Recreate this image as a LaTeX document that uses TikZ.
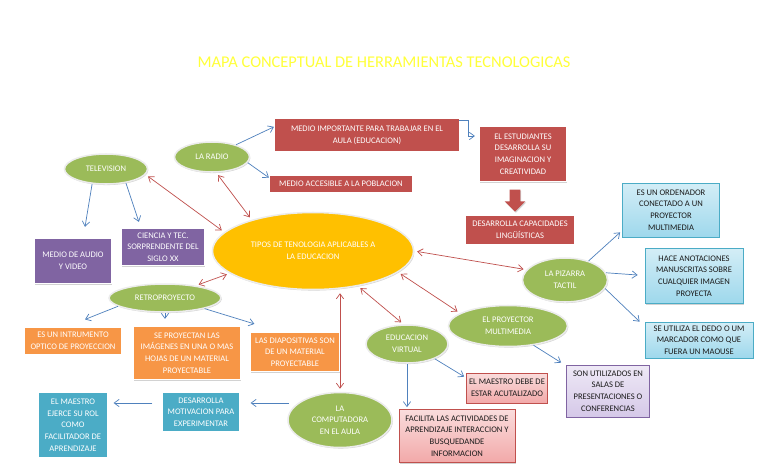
\documentclass[tikz,border=0pt]{standalone}
\usepackage{fontspec}
\setmainfont{Carlito}
\usetikzlibrary{arrows.meta,positioning,calc,shapes.geometric,shapes.arrows,shadows}
\definecolor{MapRed}{HTML}{C0504D}
\definecolor{MapPurple}{HTML}{8064A2}
\definecolor{MapOrange}{HTML}{F79646}
\definecolor{MapTeal}{HTML}{4BACC6}
\definecolor{MapGreen}{HTML}{9BBB59}
\definecolor{MapGold}{HTML}{FFC000}
\definecolor{MapBlue}{HTML}{4F81BD}
\definecolor{MapCyan}{HTML}{9ED8EC}
\definecolor{MapPink}{HTML}{F2A9A9}
\definecolor{MapLilac}{HTML}{D5C8E8}
\definecolor{MapTitle}{HTML}{FFFF3A}
\definecolor{MapInk}{HTML}{1A1A1A}
\tikzset{
  figtitle/.style={font=\fontsize{14}{16}\selectfont\color{MapTitle}, align=center},
  mapshadow/.style={drop shadow={shadow xshift=0.7pt, shadow yshift=-0.9pt, opacity=0.35}},
  bubble/.style={ellipse, draw=white!85!gray, fill=MapGreen, line width=1.3pt, inner sep=0pt,
                 align=center, font=\fontsize{7.3}{10}\selectfont\color{white}, mapshadow},
  core/.style={ellipse, draw=white!85!gray, fill=MapGold, line width=1.3pt, inner sep=0pt,
               align=center, font=\fontsize{7.3}{10.5}\selectfont\color{white}, mapshadow},
  darkbox/.style={draw=white, line width=1pt, inner sep=1pt, align=center,
                  font=\fontsize{7.3}{10}\selectfont\color{white}, mapshadow},
  redbox/.style={darkbox, fill=MapRed},
  purplebox/.style={darkbox, fill=MapPurple},
  orangebox/.style={darkbox, fill=MapOrange},
  tealbox/.style={darkbox, fill=MapTeal},
  softbox/.style={line width=0.6pt, inner sep=1pt, align=center,
                  font=\fontsize{7.3}{10}\selectfont\color{MapInk}, mapshadow},
  cyansoft/.style={softbox, draw=MapTeal, top color=MapCyan!45, bottom color=MapCyan},
  pinksoft/.style={softbox, draw=MapRed, top color=MapPink!40, bottom color=MapPink},
  lilacsoft/.style={softbox, draw=MapPurple, top color=MapLilac!40, bottom color=MapLilac},
  blockarrow/.style={single arrow, shape border rotate=270, fill=MapRed, draw=none,
                     minimum height=0.66cm, minimum width=0.62cm, single arrow head extend=0.15cm,
                     inner sep=0.15cm, mapshadow},
  arrow/.style={-{Straight Barb[length=1.5mm,width=2.2mm]}, line width=0.6pt, MapBlue},
  biarrow/.style={{Straight Barb[length=1.5mm,width=2.2mm]}-{Straight Barb[length=1.5mm,width=2.2mm]},
                  line width=0.6pt, MapRed, shorten <=0.09cm, shorten >=0.09cm},
}

\begin{document}
\begin{tikzpicture}[x=0.03cm, y=-0.03cm]
  \fill[white] (0,0) rectangle (768,466);
  \useasboundingbox (0,0) rectangle (768,466);

  % Title
  \node[figtitle] (title) at (384,62) {MAPA CONCEPTUAL DE HERRAMIENTAS TECNOLOGICAS};

  % Centre
  \node[core, minimum width=6.03cm, minimum height=2.31cm] (tipos) at (313,251)
        {TIPOS DE TENOLOGIA APLICABLES A\\LA EDUCACION};

  % Radio
  \node[bubble, minimum width=2.25cm, minimum height=0.9cm] (radio) at (212,157) {LA RADIO};
  \node[redbox, minimum width=5.55cm, minimum height=1.02cm] (mimp) at (367,135)
        {MEDIO IMPORTANTE PARA TRABAJAR EN EL\\AULA (EDUCACION)};
  \node[redbox, minimum width=4.29cm, minimum height=0.54cm] (macc) at (341,184)
        {MEDIO ACCESIBLE A LA POBLACION};
  \node[redbox, minimum width=2.61cm, minimum height=1.65cm] (estud) at (523,154)
        {EL ESTUDIANTES\\DESARROLLA SU\\IMAGINACION Y\\CREATIVIDAD};
  \node[blockarrow] (down) at (515,198) {};
  \node[redbox, minimum width=3.3cm, minimum height=0.9cm] (capac) at (520,230)
        {DESARROLLA CAPACIDADES\\LINGÜÍSTICAS};

  % Television
  \node[bubble, minimum width=2.49cm, minimum height=0.9cm] (tv) at (106,169) {TELEVISION};
  \node[purplebox, minimum width=2.31cm, minimum height=1.35cm] (audio) at (73,261)
        {MEDIO DE AUDIO\\Y VIDEO};
  \node[purplebox, minimum width=2.49cm, minimum height=1.11cm] (ciencia) at (163,247)
        {CIENCIA Y TEC.\\SORPRENDENTE DEL\\SIGLO XX};

  % Retroproyecto
  \node[bubble, minimum width=3.36cm, minimum height=0.84cm] (retro) at (165,298) {RETROPROYECTO};
  \node[orangebox, minimum width=2.91cm, minimum height=0.84cm] (optico) at (73,341)
        {ES UN INTRUMENTO\\OPTICO DE PROYECCION};
  \node[orangebox, minimum width=3.21cm, minimum height=1.59cm] (imagenes) at (187,353)
        {SE PROYECTAN LAS\\IMÁGENES EN UNA O MAS\\HOJAS DE UN MATERIAL\\PROYECTABLE};
  \node[orangebox, minimum width=2.7cm, minimum height=1.17cm] (diapo) at (295,352)
        {LAS DIAPOSITIVAS SON\\DE UN MATERIAL\\PROYECTABLE};

  % Computadora
  \node[bubble, minimum width=3.12cm, minimum height=1.65cm] (compu) at (340,420)
        {LA\\COMPUTADORA\\EN EL AULA};
  \node[tealbox, minimum width=2.34cm, minimum height=1.2cm] (motiv) at (201,412)
        {DESARROLLA\\MOTIVACION PARA\\EXPERIMENTAR};
  \node[tealbox, minimum width=2.1cm, minimum height=1.98cm] (rol) at (73,425)
        {EL MAESTRO\\EJERCE SU ROL\\COMO\\FACILITADOR DE\\APRENDIZAJE};

  % Educacion virtual
  \node[bubble, minimum width=2.46cm, minimum height=1.14cm] (virtual) at (407,344)
        {EDUCACION\\VIRTUAL};
  \node[pinksoft, minimum width=2.43cm, minimum height=0.9cm] (actual) at (507,388)
        {EL MAESTRO DEBE DE\\ESTAR ACUTALIZADO};
  \node[pinksoft, minimum width=3.48cm, minimum height=1.59cm] (facilita) at (457,436)
        {FACILITA LAS ACTIVIDADES DE\\APRENDIZAJE INTERACCION Y\\BUSQUEDANDE\\INFORMACION};

  % Proyector multimedia
  \node[bubble, minimum width=3.57cm, minimum height=1.23cm] (proyector) at (508,326)
        {EL PROYECTOR\\MULTIMEDIA};
  \node[lilacsoft, minimum width=2.49cm, minimum height=1.56cm] (salas) at (608,391)
        {SON UTILIZADOS EN\\SALAS DE\\PRESENTACIONES O\\CONFERENCIAS};

  % Pizarra tactil
  \node[bubble, minimum width=2.55cm, minimum height=1.32cm] (pizarra) at (565,280)
        {LA PIZARRA\\TACTIL};
  \node[cyansoft, minimum width=2.91cm, minimum height=1.62cm] (ordenador) at (671,210)
        {ES UN ORDENADOR\\CONECTADO A UN\\PROYECTOR\\MULTIMEDIA};
  \node[cyansoft, minimum width=2.94cm, minimum height=1.65cm] (anota) at (694,276)
        {HACE ANOTACIONES\\MANUSCRITAS SOBRE\\CUALQUIER IMAGEN\\PROYECTA};
  \node[cyansoft, minimum width=3.24cm, minimum height=1.08cm] (dedo) at (699,340)
        {SE UTILIZA EL DEDO O UM\\MARCADOR COMO QUE\\FUERA UN MAOUSE};

  % links to the centre
  \draw[biarrow] (tv.-8) -- (tipos.168);
  \draw[biarrow] (radio.-75) -- (tipos.153);
  \draw[biarrow] (retro.22) -- (tipos.195);
  \draw[biarrow] (tipos.east) -- (pizarra.165);
  \draw[biarrow] (tipos.-14) -- (proyector.165);
  \draw[biarrow] (tipos.-38) -- (virtual.100);
  \draw[biarrow] (compu.north |- tipos.south) -- (compu.north);

  % branches
  \draw[arrow] (radio.27) -- (mimp.175);
  \draw[arrow] (radio.-9) -- (macc.175);
  \draw[arrow] ($(mimp.north east)+(-1,3)$) -- ++(9,0) |- ($(estud.west)+(-4,-18)$);
  \draw[arrow] (tv.227) -- ($(audio.north)+(12,-11)$);
  \draw[arrow] (tv.-35) -- ($(ciencia.north west)+(18,-6)$);
  \draw[arrow] (retro.190) -- ($(optico.north)+(12,-7)$);
  \draw[arrow] (retro.south) -- ($(imagenes.north)+(-22,-7)$);
  \draw[arrow] (retro.-15) -- ($(diapo.north west)+(5,-8)$);
  \draw[arrow] (pizarra.39) -- ($(ordenador.south west)+(-2,-5)$);
  \draw[arrow] (pizarra.10) -- ($(anota.west)+(-7,-1)$);
  \draw[arrow] (pizarra.-12) -- ($(dedo.north west)+(-5,0)$);
  \draw[arrow] (proyector.-37) -- ($(salas.north west)+(-5,-2)$);
  \draw[arrow] (virtual.-28) -- ($(actual.north west)+(-2,4)$);
  \draw[arrow, shorten >=0.06cm] (virtual.south) -- (virtual.south |- facilita.north);
  \draw[arrow] ($(compu.west)+(2,-17)$) -- ($(motiv.east)+(10,-9)$);
  \draw[arrow] ($(motiv.west)+(-9,-9)$) -- ($(rol.east)+(5,-22)$);

\end{tikzpicture}
\end{document}
